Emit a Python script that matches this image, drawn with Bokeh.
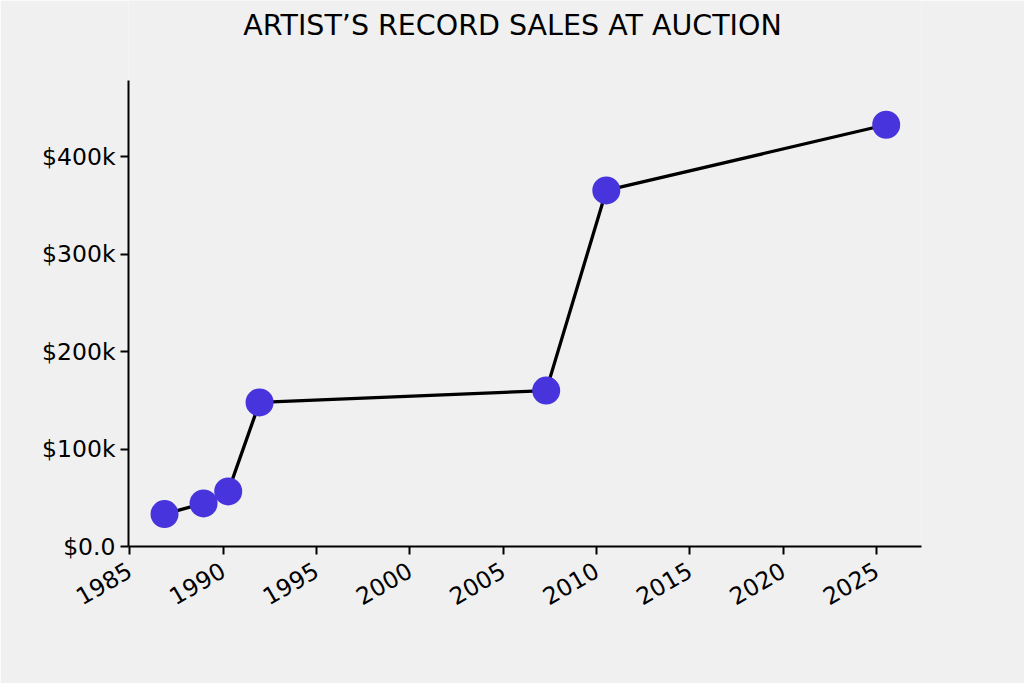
import math
from bokeh.plotting import figure
from bokeh.models import FixedTicker, Range1d, Label
from bokeh.embed import file_html
from bokeh.resources import INLINE

# data
years = [1986.86, 1988.95, 1990.27, 1991.95, 2007.3, 2010.52, 2025.51]
prices = [33300, 44200, 56500, 147800, 159900, 365200, 432600]

x_ticks = [1985, 1990, 1995, 2000, 2005, 2010, 2015, 2020, 2025]
y_ticks = [0, 100000, 200000, 300000, 400000]
y_tick_labels = ["$0.0", "$100k", "$200k", "$300k", "$400k"]
title_text = "ARTIST\u2019S RECORD SALES AT AUCTION"

BG = "#f0f0f0"
FONT = "DejaVu Sans"

Y_AXIS_MAX = 478000          # top of the visible y axis
PLOT_H = 466                 # height of the axes area in px
FRAME_H = 546                # frame extends up to the top of the page to host the title

p = figure(width=1024, height=683, output_backend="svg", toolbar_location=None,
           frame_width=793, frame_height=FRAME_H,
           x_range=Range1d(1984.93, 2027.4),
           y_range=Range1d(0, Y_AXIS_MAX * FRAME_H / PLOT_H),
           min_border_left=128, min_border_right=103, min_border_top=0, min_border_bottom=137,
           background_fill_color=BG, border_fill_color=BG, outline_line_color=None)

# title (screen units relative to the frame: x from left, y from bottom)
title = Label(x=384, y=FRAME_H - 25, x_units="screen", y_units="screen", text=title_text,
              text_align="center", text_baseline="alphabetic",
              text_font=FONT, text_font_size="28.5px", text_color="black")
p.add_layout(title)

p.grid.visible = False

p.line(years, prices, line_color="black", line_width=3.3)
p.scatter(years, prices, size=28, fill_color="#4834DC", line_color=None)

for ax in (p.xaxis[0], p.yaxis[0]):
    ax.axis_line_color = "black"
    ax.axis_line_width = 2
    ax.major_tick_line_color = "black"
    ax.major_tick_line_width = 2
    ax.major_tick_out = 8
    ax.major_tick_in = 0
    ax.minor_tick_line_color = None
    ax.major_label_text_font = FONT
    ax.major_label_text_font_size = "23.5px"
    ax.major_label_text_color = "black"

p.xaxis[0].ticker = FixedTicker(ticks=x_ticks)
p.xaxis[0].major_label_overrides = {t: str(t) for t in x_ticks}
p.xaxis[0].major_label_orientation = math.pi / 6
p.xaxis[0].major_label_standoff = 14

p.yaxis[0].ticker = FixedTicker(ticks=y_ticks)
p.yaxis[0].bounds = (0, Y_AXIS_MAX)
p.yaxis[0].major_label_overrides = dict(zip(y_ticks, y_tick_labels))
p.yaxis[0].major_label_standoff = 5

open("out.html", "w").write(file_html(p, INLINE))
